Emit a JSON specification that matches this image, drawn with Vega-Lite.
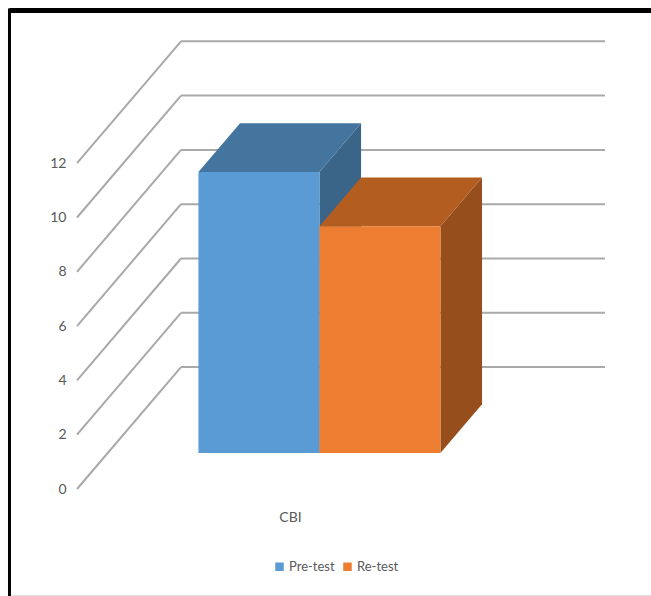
{
  "$schema": "https://vega.github.io/schema/vega-lite/v6.json",
  "width": 651,
  "height": 596,
  "padding": 0,
  "autosize": "none",
  "background": "#ffffff",
  "config": {
    "view": {"stroke": null},
    "font": "Lato",
    "axis": {"domain": false, "ticks": false, "grid": false, "labelPadding": 0}
  },
  "datasets": {
    "border": [{"edge": "frame"}],
    "grid": [{"level": 0}, {"level": 2}, {"level": 4}, {"level": 6}, {"level": 8}, {"level": 10}, {"level": 12}],
    "bars": [
      {"category": "CBI", "series": "Pre-test", "value": 10.35, "slot": 0.75},
      {"category": "CBI", "series": "Re-test", "value": 8.35, "slot": 1.75}
    ]
  },
  "resolve": {"scale": {"color": "independent"}},
  "layer": [
    {
      "data": {"name": "border"},
      "mark": {"type": "rule", "color": "#000000", "strokeWidth": 5},
      "encoding": {
        "x": {
          "datum": -0.558,
          "type": "quantitative",
          "title": null,
          "scale": {"domain": [-0.6364, 4.7438], "nice": false, "zero": false},
          "axis": {
            "values": [1.76],
            "labelExpr": "'CBI'",
            "offset": -86,
            "labelFontSize": 14,
            "labelColor": "#595959"
          }
        },
        "x2": {"datum": 4.7438},
        "y": {
          "datum": 17.624,
          "type": "quantitative",
          "title": null,
          "scale": {"domain": [-3.941, 18.011], "nice": false, "zero": false},
          "axis": {
            "values": [0, 2, 4, 6, 8, 10, 12],
            "offset": -66,
            "labelFontSize": 14,
            "labelColor": "#595959"
          }
        }
      }
    },
    {
      "data": {"name": "border"},
      "mark": {"type": "rule", "color": "#000000", "strokeWidth": 3},
      "encoding": {
        "x": {"datum": -0.558, "type": "quantitative", "title": null},
        "y": {"datum": 17.7, "type": "quantitative", "title": null},
        "y2": {"datum": -3.941}
      }
    },
    {
      "data": {"name": "border"},
      "mark": {"type": "rule", "color": "#dddddd", "strokeWidth": 1},
      "encoding": {
        "x": {"datum": -0.54, "type": "quantitative", "title": null},
        "x2": {"datum": 4.7438},
        "y": {"datum": -3.92, "type": "quantitative", "title": null}
      }
    },
    {
      "data": {"name": "grid"},
      "transform": [
        {"calculate": "datum.level + 4.49", "as": "backLevel"},
        {"calculate": "0", "as": "frontX"},
        {"calculate": "0.8595", "as": "backX"}
      ],
      "mark": {"type": "rule", "color": "#a9a9a9", "strokeWidth": 2},
      "encoding": {
        "x": {"field": "frontX", "type": "quantitative", "title": null},
        "x2": {"field": "backX"},
        "y": {"field": "level", "type": "quantitative", "title": null},
        "y2": {"field": "backLevel"}
      }
    },
    {
      "data": {"name": "grid"},
      "transform": [
        {"calculate": "datum.level + 4.49", "as": "backLevel"},
        {"calculate": "0.8595", "as": "startX"},
        {"calculate": "0.8595 + 3.504", "as": "endX"}
      ],
      "mark": {"type": "rule", "color": "#a9a9a9", "strokeWidth": 2},
      "encoding": {
        "x": {"field": "startX", "type": "quantitative", "title": null},
        "x2": {"field": "endX"},
        "y": {"field": "backLevel", "type": "quantitative", "title": null}
      }
    },
    {
      "data": {"name": "bars"},
      "transform": [
        {"calculate": "[0.295, 0.695]", "as": "depth"},
        {"flatten": ["depth"]},
        {"calculate": "datum.slot + 1 + 0.8595 * datum.depth", "as": "px"},
        {"calculate": "datum.value + 4.49 * datum.depth", "as": "topY"},
        {"calculate": "4.49 * datum.depth", "as": "bottomY"}
      ],
      "mark": {"type": "area", "orient": "vertical"},
      "encoding": {
        "x": {"field": "px", "type": "quantitative", "title": null},
        "y": {"field": "topY", "type": "quantitative", "title": null},
        "y2": {"field": "bottomY"},
        "color": {
          "field": "series",
          "type": "nominal",
          "legend": null,
          "scale": {"domain": ["Pre-test", "Re-test"], "range": ["#3a6488", "#964e1c"]}
        }
      }
    },
    {
      "data": {"name": "bars"},
      "transform": [
        {"calculate": "[0.295, 0.695]", "as": "depth"},
        {"flatten": ["depth"]},
        {"calculate": "datum.slot + 0.8595 * datum.depth", "as": "leftX"},
        {"calculate": "datum.slot + 1 + 0.8595 * datum.depth", "as": "rightX"},
        {"calculate": "datum.value + 4.49 * datum.depth", "as": "topY"}
      ],
      "mark": {"type": "area", "orient": "horizontal"},
      "encoding": {
        "y": {"field": "topY", "type": "quantitative", "title": null},
        "x": {"field": "leftX", "type": "quantitative", "title": null},
        "x2": {"field": "rightX"},
        "color": {
          "field": "series",
          "type": "nominal",
          "legend": null,
          "scale": {"domain": ["Pre-test", "Re-test"], "range": ["#44759f", "#b35d20"]}
        }
      }
    },
    {
      "data": {"name": "bars"},
      "transform": [
        {"calculate": "datum.slot + 0.8595 * 0.295", "as": "leftX"},
        {"calculate": "datum.slot + 1 + 0.8595 * 0.295", "as": "rightX"},
        {"calculate": "4.49 * 0.295", "as": "bottomY"},
        {"calculate": "datum.value + 4.49 * 0.295", "as": "topY"}
      ],
      "mark": {"type": "rect"},
      "encoding": {
        "x": {"field": "leftX", "type": "quantitative", "title": null},
        "x2": {"field": "rightX"},
        "y": {"field": "topY", "type": "quantitative", "title": null},
        "y2": {"field": "bottomY"},
        "color": {
          "field": "series",
          "type": "nominal",
          "scale": {"domain": ["Pre-test", "Re-test"], "range": ["#5b9bd5", "#ed7d31"]},
          "legend": {
            "title": null,
            "orient": "none",
            "legendX": 273,
            "legendY": 560,
            "direction": "horizontal",
            "symbolType": "square",
            "symbolSize": 72,
            "symbolStrokeWidth": 0,
            "labelFontSize": 13,
            "labelColor": "#595959",
            "columnPadding": 6,
            "labelOffset": 3
          }
        }
      }
    }
  ]
}
